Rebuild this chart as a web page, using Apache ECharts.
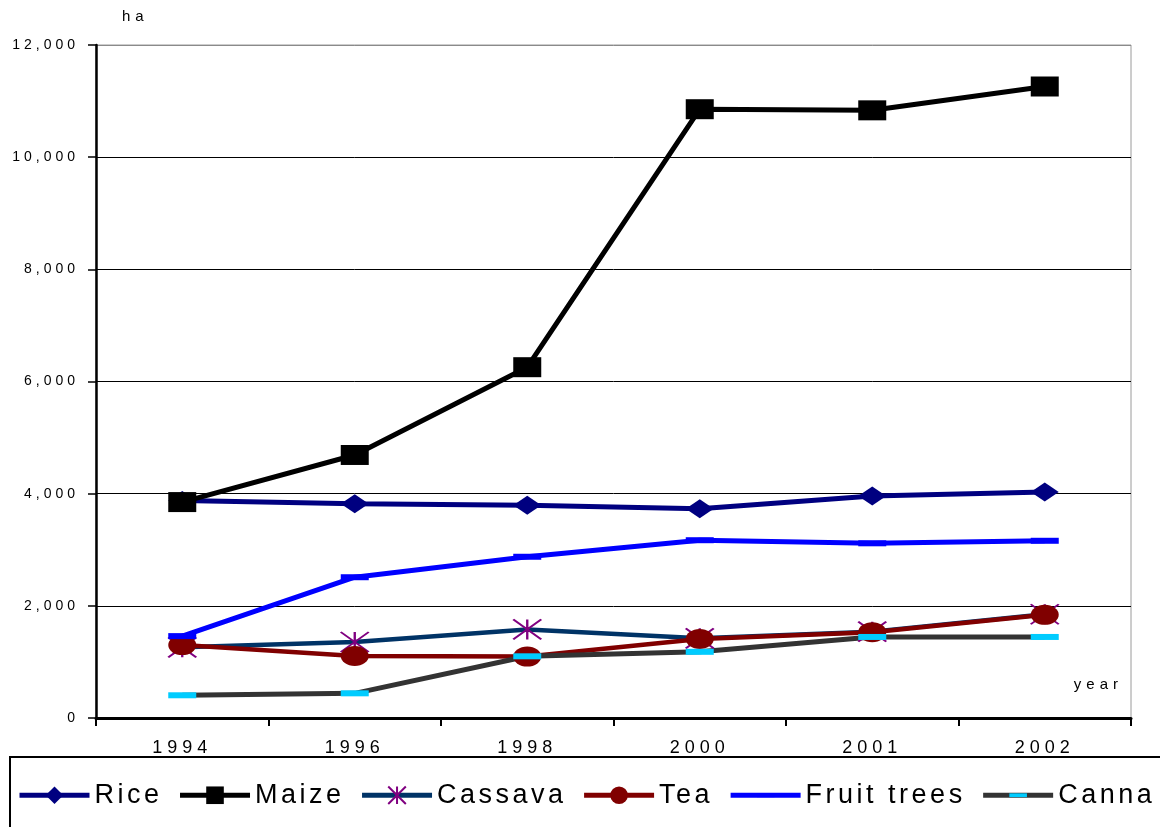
<!DOCTYPE html>
<html>
<head>
<meta charset="utf-8">
<title>Planted area by crop, 1994–2002</title>
<script src="https://cdn.jsdelivr.net/npm/echarts@6/dist/echarts.min.js"></script>
<style>
  html, body { margin: 0; padding: 0; background: #ffffff; }
  #chart { width: 1160px; height: 827px; }
</style>
</head>
<body>
<div id="chart"></div>
<script>
// Years on the horizontal axis
const years = ['1994', '1996', '1998', '2000', '2001', '2002'];

// Planted area, ha
const rice       = [3880, 3820, 3795, 3730, 3960, 4030];
const maize      = [3850, 4690, 6255, 10855, 10835, 11260];
const cassava    = [1260, 1355, 1580, 1420, 1540, 1850];
const tea        = [1300, 1105, 1095, 1410, 1530, 1840];
const fruitTrees = [1460, 2510, 2875, 3170, 3115, 3160];
const canna      = [405, 440, 1100, 1180, 1445, 1445];

// Value axis
const yMin = 0;
const yMax = 12000;
const yStep = 2000;

// Wide letter spacing for all chart text, keyed by font size (px)
const SPACING = { 14: 4, 15: 5, 18: 5, 27: 3.5 };
(function () {
  const proto = window.CanvasRenderingContext2D && CanvasRenderingContext2D.prototype;
  if (!proto || !('letterSpacing' in proto)) return;
  const spacingFor = (font) => {
    const m = /(\d+(?:\.\d+)?)px/.exec(font || '');
    const s = m ? SPACING[Math.round(+m[1])] : 0;
    return (s || 0) + 'px';
  };
  const fill = proto.fillText, stroke = proto.strokeText, measure = proto.measureText;
  proto.fillText = function () { this.letterSpacing = spacingFor(this.font); return fill.apply(this, arguments); };
  proto.strokeText = function () { this.letterSpacing = spacingFor(this.font); return stroke.apply(this, arguments); };
  proto.measureText = function () { this.letterSpacing = spacingFor(this.font); return measure.apply(this, arguments); };
})();

const FONT = "'Liberation Sans', Arial, sans-serif";

// Marker shapes
const asterisk = 'path://M0,0L28,20M28,0L0,20M14,0L14,20';
const dash = 'path://M0,0M28,28M0,11H28V17H0Z';

function lineSeries(name, data, lineColor, lineWidth, symbol, symbolSize, itemStyle) {
  return {
    name: name,
    type: 'line',
    data: data,
    symbol: symbol,
    symbolSize: symbolSize,
    showAllSymbol: true,
    lineStyle: { color: lineColor, width: lineWidth },
    itemStyle: itemStyle,
    emphasis: { disabled: true }
  };
}

const chart = echarts.init(document.getElementById('chart'), null, { renderer: 'canvas' });

chart.setOption({
  animation: false,
  backgroundColor: '#ffffff',
  textStyle: { fontFamily: FONT, color: '#000' },
  grid: {
    left: 96, right: 29, top: 45, bottom: 109,
    show: true, borderColor: '#9a9a9a', borderWidth: 1, backgroundColor: 'transparent'
  },
  legend: {
    left: 10,
    top: 757,
    width: 1400,
    orient: 'horizontal',
    padding: [23, 40, 40, 7],
    itemWidth: 70,
    itemHeight: 22,
    itemGap: 15,
    borderColor: '#000',
    borderWidth: 2,
    selectedMode: false,
    lineStyle: { width: 5 },
    textStyle: { fontFamily: FONT, fontSize: 27, color: '#000' },
    data: ['Rice', 'Maize', 'Cassava', 'Tea', 'Fruit trees', 'Canna']
  },
  xAxis: {
    type: 'category',
    data: years,
    boundaryGap: true,
    name: 'year',
    nameLocation: 'end',
    nameGap: -8,
    nameTextStyle: { fontFamily: FONT, fontSize: 15, color: '#000', align: 'right', verticalAlign: 'bottom', padding: [0, 0, 23, 0] },
    axisLine: { show: true, lineStyle: { color: '#000', width: 3 } },
    axisTick: { show: true, length: 8, interval: 0, lineStyle: { color: '#000', width: 2 } },
    axisLabel: { fontFamily: FONT, fontSize: 18, color: '#000', margin: 19, interval: 0 },
    splitLine: { show: false }
  },
  yAxis: {
    type: 'value',
    min: yMin,
    max: yMax,
    interval: yStep,
    name: 'ha',
    nameLocation: 'end',
    nameGap: 18,
    nameTextStyle: { fontFamily: FONT, fontSize: 15, color: '#000', align: 'left', verticalAlign: 'bottom', padding: [0, 0, 0, 26] },
    axisLine: { show: true, lineStyle: { color: '#000', width: 2.5 } },
    axisTick: { show: true, length: 8, lineStyle: { color: '#000', width: 1.5 } },
    axisLabel: {
      fontFamily: FONT, fontSize: 14, color: '#000', margin: 17,
      formatter: (v) => v.toLocaleString('en-US')
    },
    splitLine: {
      show: true,
      lineStyle: { color: ['#000', '#000', '#000', '#000', '#000', '#000', '#8a8a8a'], width: 1 }
    }
  },
  series: [
    lineSeries('Rice', rice, '#000080', 5, 'diamond', [28, 19], { color: '#000080' }),
    lineSeries('Maize', maize, '#000000', 5, 'rect', [28, 20], { color: '#000000' }),
    lineSeries('Cassava', cassava, '#003366', 4.5, asterisk, [28, 20],
      { color: 'rgba(0,0,0,0)', borderColor: '#800080', borderWidth: 2 }),
    lineSeries('Tea', tea, '#800000', 4.5, 'circle', [28, 20], { color: '#800000' }),
    lineSeries('Fruit trees', fruitTrees, '#0000ff', 5, dash, [28, 28], { color: '#0000ff' }),
    lineSeries('Canna', canna, '#333333', 5, dash, [28, 28], { color: '#00ccff' })
  ]
});
</script>
</body>
</html>
